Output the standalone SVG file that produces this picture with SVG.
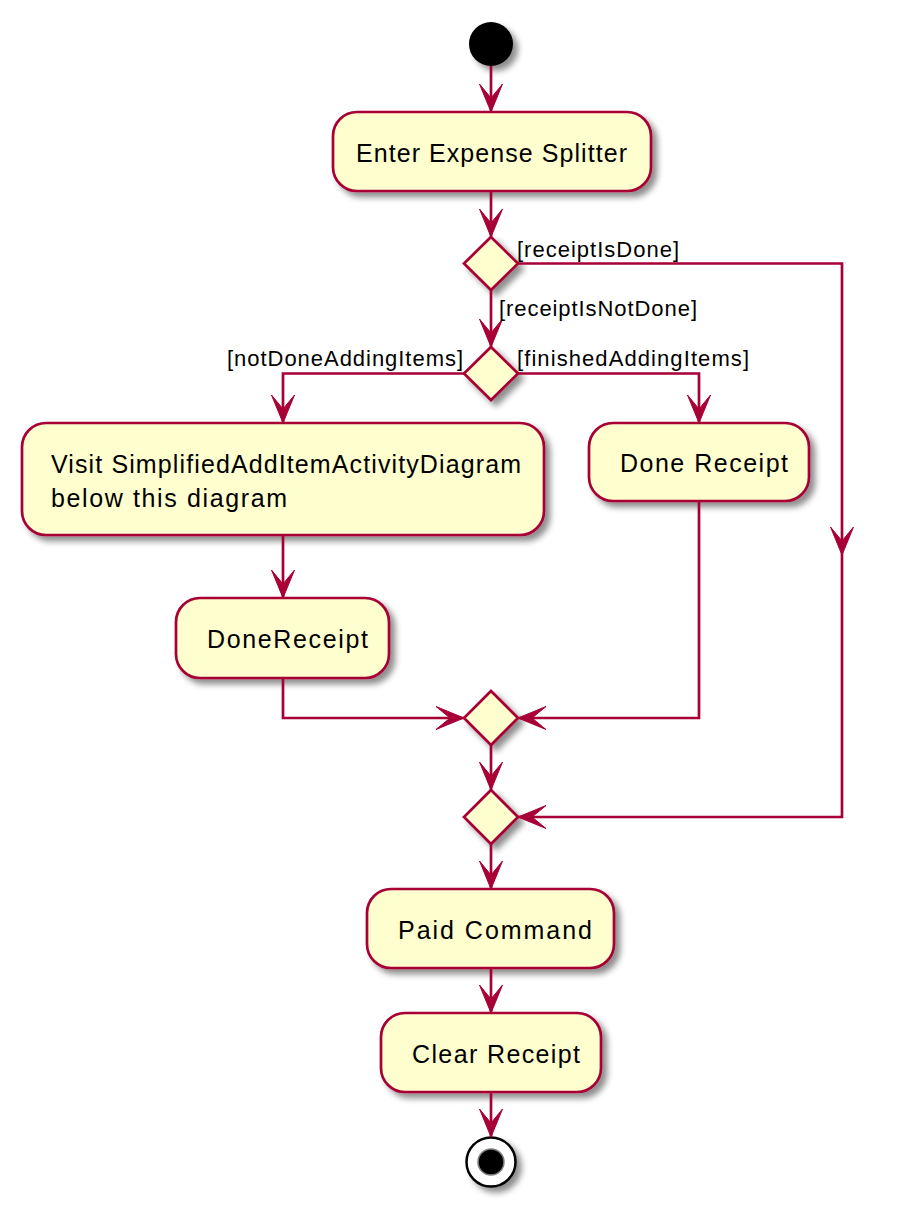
<svg xmlns="http://www.w3.org/2000/svg" width="897" height="1209" viewBox="0 0 897 1209">
<defs>
<filter id="sh" x="-20%" y="-20%" width="150%" height="160%">
<feGaussianBlur in="SourceAlpha" stdDeviation="3"/>
<feOffset dx="5" dy="5" result="b"/>
<feComponentTransfer><feFuncA type="linear" slope="0.45"/></feComponentTransfer>
<feMerge><feMergeNode/><feMergeNode in="SourceGraphic"/></feMerge>
</filter>
<marker id="ah" markerUnits="userSpaceOnUse" markerWidth="30" markerHeight="24" viewBox="0 0 30 24" refX="28" refY="12" orient="auto" overflow="visible">
<path d="M0,0.5 L28,12 L0,23.5 L14,12 Z" fill="#A80036" stroke="#A80036" stroke-width="1"/>
</marker>
</defs>
<style>
.box{fill:#FEFECE;stroke:#A80036;stroke-width:2.7;filter:url(#sh)}
.dia{fill:#FEFECE;stroke:#A80036;stroke-width:2.7;filter:url(#sh)}
.con{fill:none;stroke:#A80036;stroke-width:2.7;marker-end:url(#ah)}
.t{font-family:"Liberation Sans",Arial,sans-serif;font-size:25px;fill:#000}
.g{font-family:"Liberation Sans",Arial,sans-serif;font-size:22px;fill:#000}
</style>
<rect width="897" height="1209" fill="#FFFFFF"/>

<g id="start">
<circle cx="491" cy="44" r="22" fill="#000" filter="url(#sh)"/>
</g>

<g id="enter">
<rect class="box" x="333" y="112" width="318" height="79" rx="24"/>
<text class="t" x="356" y="162" textLength="271" lengthAdjust="spacing">Enter Expense Splitter</text>
</g>

<g id="d1">
<polygon class="dia" points="491,237 518,263.5 491,290 464,263.5"/>
</g>

<g id="d2">
<polygon class="dia" points="491,347 518,373.5 491,400 464,373.5"/>
</g>

<g id="visit">
<rect class="box" x="22" y="423" width="522" height="112" rx="24"/>
<text class="t" x="51" y="473" textLength="470" lengthAdjust="spacing">Visit SimplifiedAddItemActivityDiagram</text>
<text class="t" x="51" y="507" textLength="236" lengthAdjust="spacing">below this diagram</text>
</g>

<g id="doneReceipt2">
<rect class="box" x="589" y="423" width="220" height="78" rx="24"/>
<text class="t" x="620" y="472" textLength="168" lengthAdjust="spacing">Done Receipt</text>
</g>

<g id="doneReceipt1">
<rect class="box" x="176" y="598" width="213" height="80" rx="24"/>
<text class="t" x="207" y="648" textLength="161" lengthAdjust="spacing">DoneReceipt</text>
</g>

<g id="d3">
<polygon class="dia" points="491,691 518,718 491,745 464,718"/>
</g>

<g id="d4">
<polygon class="dia" points="491,790 518,817 491,844 464,817"/>
</g>

<g id="paid">
<rect class="box" x="367" y="889" width="247" height="79" rx="24"/>
<text class="t" x="398" y="939" textLength="194" lengthAdjust="spacing">Paid Command</text>
</g>

<g id="clear">
<rect class="box" x="381" y="1013" width="220" height="79" rx="24"/>
<text class="t" x="412" y="1063" textLength="168" lengthAdjust="spacing">Clear Receipt</text>
</g>

<g id="end">
<circle cx="491" cy="1162" r="24.5" fill="#FFFFFF" stroke="#000" stroke-width="2.5" filter="url(#sh)"/>
<circle cx="491" cy="1162" r="13" fill="#000" stroke="#7F7F7F" stroke-width="1.5"/>
</g>

<g id="connectors">
<path class="con" d="M491,66 L491,112"/>
<path class="con" d="M491,191 L491,237"/>
<path class="con" d="M491,290 L491,347"/>
<path class="con" d="M518,263.5 L842,263.5 L842,555"/>
<path class="con" d="M842,555 L842,817 L518,817"/>
<path class="con" d="M464,373.5 L283,373.5 L283,423"/>
<path class="con" d="M518,373.5 L699,373.5 L699,423"/>
<path class="con" d="M283,535 L283,598"/>
<path class="con" d="M283,678 L283,718 L464,718"/>
<path class="con" d="M699,501 L699,718 L518,718"/>
<path class="con" d="M491,745 L491,790"/>
<path class="con" d="M491,844 L491,889"/>
<path class="con" d="M491,968 L491,1013"/>
<path class="con" d="M491,1092 L491,1137"/>
<text class="g" x="517" y="257" textLength="162" lengthAdjust="spacing">[receiptIsDone]</text>
<text class="g" x="499" y="316" textLength="198" lengthAdjust="spacing">[receiptIsNotDone]</text>
<text class="g" x="227" y="366" textLength="236" lengthAdjust="spacing">[notDoneAddingItems]</text>
<text class="g" x="517" y="366" textLength="232" lengthAdjust="spacing">[finishedAddingItems]</text>
</g>
</svg>
